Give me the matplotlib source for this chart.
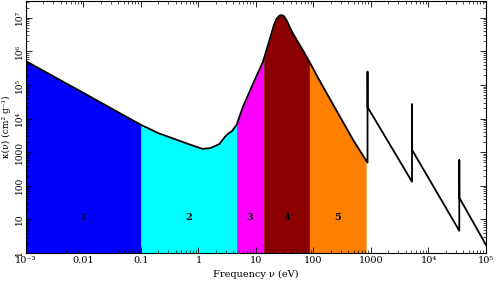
import numpy as np
import matplotlib

matplotlib.use('Agg')

import matplotlib.pyplot as plt
from matplotlib.ticker import FixedLocator, LogLocator, NullFormatter

plt.rcParams['font.family'] = ['DejaVu Serif']
plt.rcParams['mathtext.fontset'] = 'dejavuserif'

# opacity curve kappa(nu)
nu = [1e-3, 0.01, 0.1, 0.2, 0.4, 0.7, 1.17, 1.6, 2.3, 2.9, 3.3, 3.8, 4.6, 5.9, 8.9,
      13.2, 17.2, 21.0, 23.0, 25.5, 28.0, 30.5, 34.0, 38.0, 43.6, 65.0, 85.0, 126.0,
      490.0, 870.0,
      870.0, 871.0, 5170.0, 5170.0, 5180.0, 34300.0, 34300.0, 34400.0, 1e5]
kappa = [5.1e5, 5.8e4, 6.5e3, 3.7e3, 2.4e3, 1.7e3, 1.26e3, 1.32e3, 1.74e3, 2.9e3, 3.6e3,
         4.2e3, 6.5e3, 2.2e4, 1.1e5, 4.9e5, 2.2e6, 6.9e6, 9.5e6, 1.15e7, 1.2e7, 1.12e7,
         8.5e6, 5.6e6, 3.5e6, 1.1e6, 4.9e5, 1.4e5, 2.3e3, 490,
         2.5e5, 2.2e4, 132, 2.7e4, 1170, 4.6, 590, 44, 1.74]
n_smooth = 30  # points before the first absorption edge

# frequency bands and their colours
band_edges = [1e-3, 0.1, 4.6, 13.6, 85.0, 822.0]
band_colors = ['#0000ff', '#00ffff', '#ff00ff', '#8b0000', '#ff8000']
band_labels = ['1', '2', '3', '4', '5']

fig = plt.figure(figsize=(4.96, 2.81), dpi=100)
ax = fig.add_axes([26 / 496, 28 / 281, 460 / 496, 252 / 281])
ax.set_xscale('log')
ax.set_yscale('log')

lx = np.log10(nu[:n_smooth])
ly = np.log10(kappa[:n_smooth])
for lo, hi, c, lab in zip(band_edges[:-1], band_edges[1:], band_colors, band_labels):
    xs = np.logspace(np.log10(lo), np.log10(hi), 200)
    ys = 10 ** np.interp(np.log10(xs), lx, ly)
    ax.fill_between(xs, 1, ys, color=c, lw=0)
    ax.text(np.sqrt(lo * hi), 11.5, lab, ha='center', va='center',
            fontsize=7, fontweight='bold')

ax.plot(nu, kappa, color='black', lw=1.3, solid_joinstyle='round')

ax.set_xlim(1e-3, 1e5)
ax.set_ylim(1, 3.16e7)

xt = [1e-3, 0.01, 0.1, 1, 10, 100, 1000, 1e4, 1e5]
xtl = ['10⁻³', '0.01', '0.1', '1', '10', '100', '1000', '10⁴', '10⁵']
yt = [1, 10, 100, 1000, 1e4, 1e5, 1e6, 1e7]
ytl = ['1', '10', '100', '1000', '10⁴', '10⁵', '10⁶', '10⁷']
ax.xaxis.set_major_locator(FixedLocator(xt))
ax.set_xticklabels(xtl)
ax.yaxis.set_major_locator(FixedLocator(yt))
ax.set_yticklabels(ytl, rotation=90, va='center')
ax.xaxis.set_minor_locator(LogLocator(base=10, subs=np.arange(2, 10), numticks=20))
ax.yaxis.set_minor_locator(LogLocator(base=10, subs=np.arange(2, 10), numticks=20))
ax.xaxis.set_minor_formatter(NullFormatter())
ax.yaxis.set_minor_formatter(NullFormatter())

ax.tick_params(which='both', direction='in', top=True, right=True, labelsize=7, pad=2)
ax.tick_params(axis='y', which='both', labelsize=6.5, pad=1.5)
ax.tick_params(which='major', length=4, width=0.6)
ax.tick_params(which='minor', length=2, width=0.5)
for s in ax.spines.values():
    s.set_linewidth(0.8)

ax.set_xlabel('Frequency ν (eV)', fontsize=7, va='center')
ax.xaxis.set_label_coords(0.5, -0.087)
ax.set_ylabel('κ(ν) (cm² g⁻¹)', fontsize=6.5, va='center')
ax.yaxis.set_label_coords(-0.043, 0.5)

fig.savefig('out.png', dpi=100)
